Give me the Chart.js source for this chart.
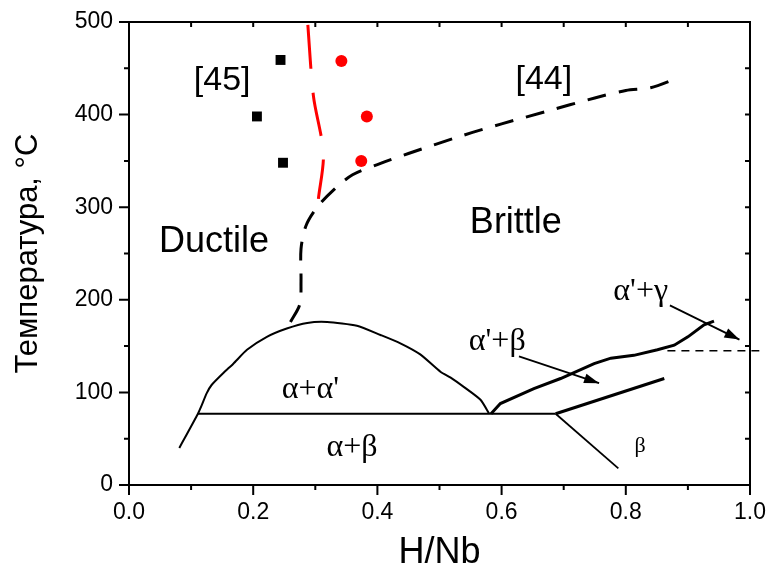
<!DOCTYPE html>
<html>
<head>
<meta charset="utf-8">
<script src="https://cdn.jsdelivr.net/npm/chart.js@4.4.1/dist/chart.umd.min.js"></script>
<style>
html, body { margin: 0; padding: 0; background: #fff; }
</style>
</head>
<body>
<canvas id="grafica" width="771" height="575"></canvas>
<script>
// valores (x = H/Nb, y = temperatura)
var cuadradosX = [0.244, 0.206, 0.248];
var cuadradosY = [459, 398, 348];

var circulosX = [0.342, 0.383, 0.374];
var circulosY = [458, 398, 350];

var rojaX = [0.288, 0.297, 0.313, 0.305];
var rojaY = [497, 420, 358, 309];

var ductilX = [0.260, 0.275, 0.277, 0.277, 0.285, 0.303, 0.330, 0.360, 0.400, 0.450, 0.540, 0.600, 0.670, 0.750, 0.800, 0.840, 0.882];
var ductilY = [176, 195, 220, 255, 280, 300, 319, 335, 346, 358, 378, 390, 403, 418, 426, 429, 439];

var domoX = [0.081, 0.111, 0.117, 0.125, 0.133, 0.152, 0.168, 0.190, 0.222, 0.254, 0.287, 0.319, 0.367, 0.405, 0.437, 0.469, 0.502, 0.518, 0.539, 0.566, 0.580];
var domoY = [40, 77, 86, 99, 108, 121, 131, 146, 160, 169, 175, 176, 172, 162, 153, 141, 122, 116, 106, 92, 77];

var eutectX = [0.111, 0.687];
var eutectY = [77, 77];

var derechaX = [0.583, 0.598, 0.652, 0.695, 0.749, 0.776, 0.813, 0.851, 0.878, 0.900, 0.926, 0.942];
var derechaY = [77, 88, 104, 115, 131, 137, 140, 146, 151, 160, 173, 177];

var ramaSupX = [0.687, 0.862];
var ramaSupY = [77, 115];

var ramaInfX = [0.687, 0.788];
var ramaInfY = [77, 18];

var linea145X = [0.867, 1.015];
var linea145Y = [145, 145];

var flecha1X = [0.628, 0.757];
var flecha1Y = [139, 110];
var flecha2X = [0.871, 0.983];
var flecha2Y = [194, 157];

// textos dentro de la grafica
var etiquetaTexto = ['[45]', '[44]', 'Ductile', 'Brittle', "\u03b1+\u03b1'", '\u03b1+\u03b2', "\u03b1'+\u03b2", "\u03b1'+\u03b3", '\u03b2'];
var etiquetaX = [0.150, 0.668, 0.137, 0.623, 0.292, 0.359, 0.593, 0.824, 0.823];
var etiquetaY = [427, 428, 252, 272, 94, 31, 146, 200, 36];

// marcas de los ejes
var marcasX = [0, 0.1, 0.2, 0.3, 0.4, 0.5, 0.6, 0.7, 0.8, 0.9, 1.0];
var marcasY = [0, 50, 100, 150, 200, 250, 300, 350, 400, 450, 500];

var sans = 'Liberation Sans, Arial, sans-serif';
var serif = 'Liberation Serif, Times New Roman, serif';
var etiquetaFuente = ['34px ' + sans, '34px ' + sans, '36px ' + sans, '36px ' + sans,
  '32px ' + serif, '32px ' + serif, '32px ' + serif, '32px ' + serif, '22px ' + serif];

function pares(xs, ys) {
  return xs.map(function (x, i) { return { x: x, y: ys[i] }; });
}

function linea(xs, ys, color, ancho, dash, tension) {
  return {
    data: pares(xs, ys),
    showLine: true,
    borderColor: color,
    borderWidth: ancho,
    borderDash: dash || [],
    tension: tension || 0,
    pointRadius: 0,
    fill: false
  };
}

var marco = {
  id: 'marco',
  afterDatasetsDraw: function (chart) {
    var ctx = chart.ctx, a = chart.chartArea;
    var sx = chart.scales.x, sy = chart.scales.y;
    ctx.save();

    // puntas de flecha
    [chart.data.datasets.length - 2, chart.data.datasets.length - 1].forEach(function (idx) {
      var pts = chart.getDatasetMeta(idx).data;
      var p0 = pts[pts.length - 2], p1 = pts[pts.length - 1];
      var ang = Math.atan2(p1.y - p0.y, p1.x - p0.x);
      ctx.fillStyle = '#000';
      ctx.beginPath();
      ctx.moveTo(p1.x, p1.y);
      ctx.lineTo(p1.x - 15 * Math.cos(ang) + 5 * Math.sin(ang), p1.y - 15 * Math.sin(ang) - 5 * Math.cos(ang));
      ctx.lineTo(p1.x - 15 * Math.cos(ang) - 5 * Math.sin(ang), p1.y - 15 * Math.sin(ang) + 5 * Math.cos(ang));
      ctx.closePath();
      ctx.fill();
    });

    // textos
    ctx.fillStyle = '#000';
    ctx.textAlign = 'center';
    ctx.textBaseline = 'alphabetic';
    etiquetaTexto.forEach(function (t, i) {
      ctx.font = etiquetaFuente[i];
      ctx.fillText(t, sx.getPixelForValue(etiquetaX[i]), sy.getPixelForValue(etiquetaY[i]));
    });

    // marco y marcas
    ctx.strokeStyle = '#000';
    ctx.lineWidth = 2;
    ctx.strokeRect(a.left, a.top, a.right - a.left, a.bottom - a.top);
    ctx.beginPath();
    marcasX.forEach(function (v, i) {
      var px = sx.getPixelForValue(v);
      var largo = (i % 2 == 0) ? 10 : 5;
      ctx.moveTo(px, a.bottom); ctx.lineTo(px, a.bottom + largo);
      ctx.moveTo(px, a.top); ctx.lineTo(px, a.top + 5);
    });
    marcasY.forEach(function (v, i) {
      var py = sy.getPixelForValue(v);
      var largo = (i % 2 == 0) ? 10 : 5;
      ctx.moveTo(a.left, py); ctx.lineTo(a.left - largo, py);
      ctx.moveTo(a.right, py); ctx.lineTo(a.right - 5, py);
    });
    ctx.stroke();
    ctx.restore();
  }
};

var datasets = [
  linea(domoX, domoY, '#000', 2, null, 0.2),
  linea(eutectX, eutectY, '#000', 2),
  linea(derechaX, derechaY, '#000', 3),
  linea(ramaSupX, ramaSupY, '#000', 3),
  linea(ramaInfX, ramaInfY, '#000', 1.8),
  linea(ductilX, ductilY, '#000', 3, [19, 13], 0.3),
  linea(rojaX, rojaY, '#ff0000', 3, [44, 24], 0.3),
  {
    data: pares(cuadradosX, cuadradosY),
    showLine: false,
    pointStyle: 'rect',
    pointRadius: 7,
    backgroundColor: '#000',
    borderWidth: 0
  },
  {
    data: pares(circulosX, circulosY),
    showLine: false,
    pointStyle: 'circle',
    pointRadius: 6,
    backgroundColor: '#ff0000',
    borderWidth: 0
  }
];
var l145 = linea(linea145X, linea145Y, '#000', 1.5, [8, 6]);
l145.clip = false;
datasets.push(l145);
datasets.push(linea(flecha1X, flecha1Y, '#000', 1.8));
datasets.push(linea(flecha2X, flecha2Y, '#000', 1.8));

new Chart(document.getElementById('grafica'), {
  type: 'scatter',
  data: { datasets: datasets },
  options: {
    responsive: false,
    devicePixelRatio: 1,
    animation: false,
    layout: { padding: { top: 22, right: 21, left: 0, bottom: 0 } },
    plugins: { legend: { display: false }, tooltip: { enabled: false } },
    scales: {
      x: {
        type: 'linear', min: 0, max: 1,
        afterFit: function (s) { s.height = 90; s.paddingLeft = 0; s.paddingRight = 0; },
        grid: { display: false, drawTicks: false, tickLength: 0 },
        border: { display: false },
        ticks: {
          stepSize: 0.2, padding: 14, color: '#000',
          font: { family: sans, size: 23 },
          callback: function (v) { return v.toFixed(1); }
        },
        title: { display: true, text: 'H/Nb', color: '#000', font: { family: sans, size: 36 }, padding: 0 }
      },
      y: {
        type: 'linear', min: 0, max: 500,
        afterFit: function (s) { s.width = 129; s.paddingTop = 0; s.paddingBottom = 0; },
        grid: { display: false, drawTicks: false, tickLength: 0 },
        border: { display: false },
        ticks: {
          stepSize: 100, padding: 16, color: '#000',
          font: { family: sans, size: 23 }
        },
        title: { display: true, text: 'Температура, °C', color: '#000', font: { family: sans, size: 31 }, padding: { top: 10, bottom: 0 } }
      }
    }
  },
  plugins: [marco]
});
</script>
</body>
</html>
